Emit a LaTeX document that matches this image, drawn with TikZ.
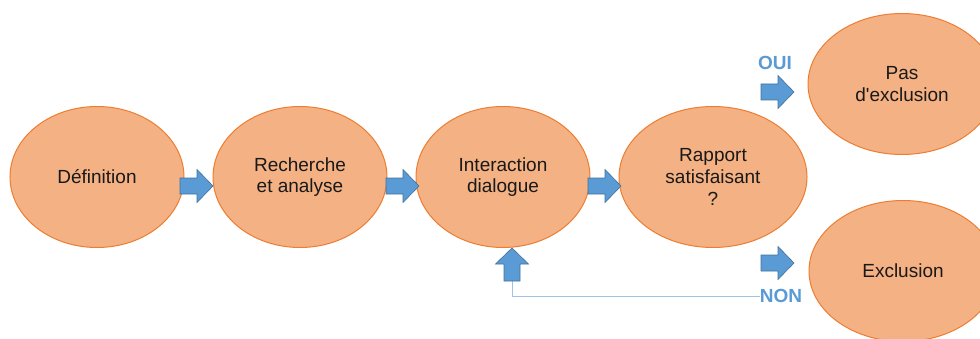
\documentclass[tikz,border=0pt]{standalone}
\usepackage{fontspec}
\setmainfont{Liberation Sans}
\usetikzlibrary{shapes.geometric}
\definecolor{ofill}{HTML}{F4B183}
\definecolor{oline}{HTML}{ED7D31}
\definecolor{afill}{HTML}{5B9BD5}
\definecolor{aline}{HTML}{41719C}
\definecolor{lline}{HTML}{9DC3E6}
\tikzset{
  bubble/.style={ellipse, fill=ofill, draw=oline, line width=1pt,
    minimum width=174pt, minimum height=141pt, inner sep=0pt,
    align=center, font=\fontsize{19}{21.8}\selectfont, text=black!90},
  lbl/.style={font=\fontsize{19}{21.8}\selectfont\bfseries, text=afill, inner sep=0pt},
  barrow/.pic={
    \filldraw[fill=afill, draw=aline, line width=0.6pt]
      (0,-8) -- (17,-8) -- (17,-16.5) -- (33,0) -- (17,16.5) -- (17,8) -- (0,8) -- cycle;
  }
}
\begin{document}
\begin{tikzpicture}[x=1pt,y=1pt]
\useasboundingbox (0,0) rectangle (980,338);
\node[bubble] (def) at (97,161) {Définition};
\node[bubble] (rech) at (300,161) {Recherche\\et analyse};
\node[bubble] (inter) at (503,161) {Interaction\\dialogue};
\node[bubble, minimum width=188pt] (rap) at (713,161) {Rapport\\satisfaisant\\?};
\node[bubble, minimum width=188pt] (pas) at (902,254) {Pas\\d\textquotesingle exclusion};
\node[bubble, minimum width=188pt] (exc) at (903,67) {Exclusion};
\node[lbl] (oui) at (775,275) {OUI};
\node[lbl] (non) at (781,42) {NON};
\pic at (180,152) {barrow};
\pic at (386,152) {barrow};
\pic at (588,152) {barrow};
\pic at (761,246) {barrow};
\pic at (761,75) {barrow};
\coordinate (fb) at (512,57);
\draw[lline, line width=1pt] (fb) |- (non.west);
\pic[rotate=90] at (fb) {barrow};
\end{tikzpicture}
\end{document}
